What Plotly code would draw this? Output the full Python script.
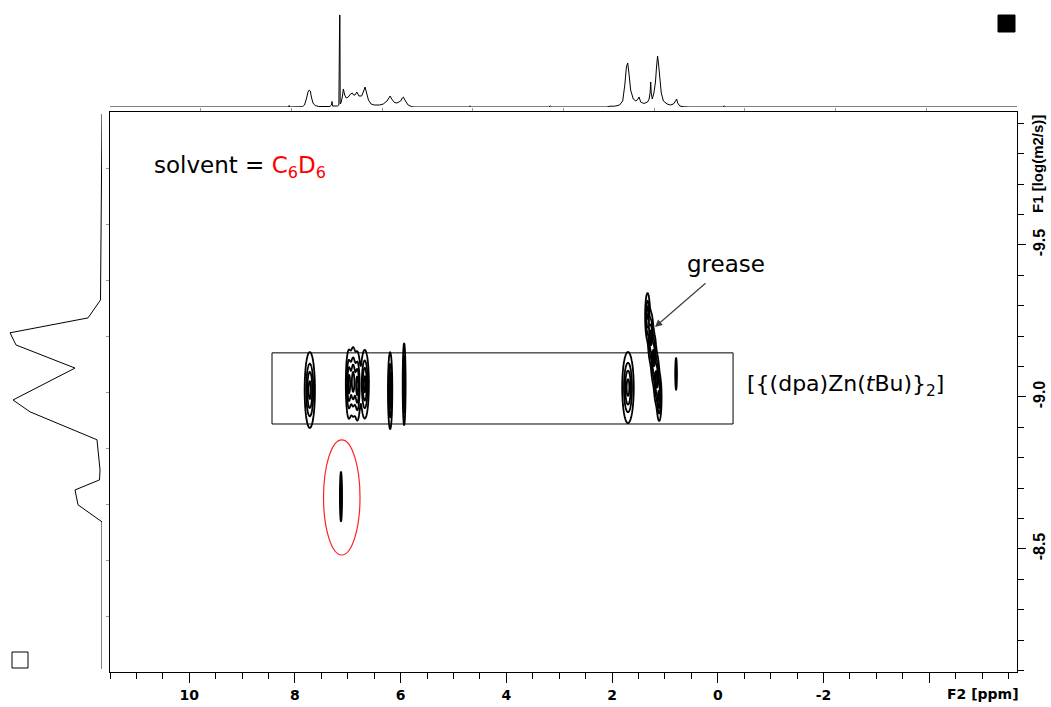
import numpy as np
import plotly.graph_objects as go

W, H = 1051, 707

# ---------------- data ----------------
# 1D 1H projection (top), ppm vs intensity
spec_ppm = [11.5, 8.2, 8.12, 8.11, 8.10, 7.86, 7.82, 7.78, 7.755, 7.73, 7.71, 7.69, 7.66, 7.62, 7.55,
            7.34, 7.31, 7.30, 7.29, 7.20, 7.17, 7.155, 7.15, 7.145, 7.13, 7.105, 7.085, 7.06, 7.03,
            6.99, 6.95, 6.915, 6.89, 6.865, 6.845, 6.83, 6.79, 6.74, 6.70, 6.675, 6.65, 6.61, 6.56,
            6.50, 6.40, 6.33, 6.26, 6.22, 6.20, 6.17, 6.12, 6.07, 6.00, 5.97, 5.95, 5.92, 5.86, 5.80,
            5.75, 4.72, 4.69, 4.66, 3.20, 3.17, 3.14, 2.10, 2.04, 1.95, 1.86, 1.80, 1.76, 1.73, 1.705,
            1.68, 1.65, 1.60, 1.55, 1.51, 1.49, 1.46, 1.40, 1.33, 1.30, 1.28, 1.27, 1.26, 1.24, 1.21,
            1.18, 1.16, 1.14, 1.12, 1.10, 1.07, 1.03, 0.96, 0.90, 0.84, 0.80, 0.78, 0.76, 0.72, 0.65,
            0.55, -0.09, -0.12, -0.15, -5.66]
spec_int = [0, 0, 0, 1.5, 0, 0.3, 2, 9, 15, 17, 16, 10, 4, 1.5, 0.5,
            0.5, 2, 5.5, 1, 1, 2, 92, 92, 3, 4, 10, 18, 12, 9,
            10, 13, 14, 12, 12, 14, 15, 11, 11, 16, 20, 15, 7, 3,
            2, 2, 3, 6, 10, 11, 8, 4.5, 4, 6, 9, 10, 7, 2, 0.5,
            0, 0, 1, 0, 0, 1, 0, 0, 0.8, 0.8, 2, 6, 22, 40, 44,
            33, 17, 8, 6, 8, 10, 5, 3.5, 5, 8, 15, 25, 14, 8, 14,
            25, 40, 51, 42, 28, 14, 6, 3, 2, 3, 6, 8, 4, 1, 0.3,
            0, 0, 1, 0, 0]

# F1 projection (left), log D vs intensity
proj_logd = [-9.931, -9.319, -9.260, -9.211, -9.171, -9.095, -8.990, -8.951, -8.859,
             -8.760, -8.727, -8.694, -8.645, -8.589, -8.105]
proj_int = [0, 1.5, 14, 92, 86, 27, 89, 72, 5, 2, 2.5, 27, 24, 0, 0]

# DOSY cross peaks: chemical shift, log D, widths, relative amplitude
pk_ppm = [7.72, 6.98, 6.90, 6.82, 6.68, 6.20, 5.935, 1.70,
          1.33, 1.27, 1.215, 1.16, 1.11, 0.79, 7.13]
pk_logd = [-9.023, -9.042, -9.050, -9.036, -9.042, -9.021, -9.042, -9.031,
           -9.266, -9.197, -9.128, -9.059, -8.997, -9.076, -8.672]
pk_wppm = [0.05, 0.03, 0.03, 0.03, 0.04, 0.021, 0.014, 0.056,
           0.024, 0.026, 0.026, 0.026, 0.024, 0.010, 0.012]
pk_wlogd = [0.064, 0.058, 0.058, 0.058, 0.058, 0.065, 0.069, 0.060,
            0.04, 0.042, 0.042, 0.042, 0.04, 0.034, 0.049]
pk_amp = [1, 1, 1, 1, 1, 1, 1, 1, 0.9, 1, 1, 1, 0.9, 0.5, 0.6]

x_ticks = [10, 8, 6, 4, 2, 0, -2, -4]
x_ticktext = ["10", "8", "6", "4", "2", "0", "-2", ""]
y_ticks = [-9.5, -9.0, -8.5]
y_ticktext = ["-9.5", "-9.0", "-8.5"]

# ---------------- figure ----------------
gx = np.arange(0.5, 8.0, 0.005)
gy = np.arange(-9.5, -8.4, 0.004)
GX, GY = np.meshgrid(gx, gy)
Z = np.zeros_like(GX)
for p, d, sp, sd, a in zip(pk_ppm, pk_logd, pk_wppm, pk_wlogd, pk_amp):
    Z += a * np.exp(-((GX - p) ** 2 / (2 * sp ** 2) + (GY - d) ** 2 / (2 * sd ** 2)))
Z = np.round(Z, 3)

fig = go.Figure()
fig.add_trace(go.Scatter(x=spec_ppm, y=spec_int, mode="lines", xaxis="x", yaxis="y2",
                         line=dict(color="black", width=1), hoverinfo="skip"))
fig.add_trace(go.Scatter(x=proj_int, y=proj_logd, mode="lines", xaxis="x3", yaxis="y",
                         line=dict(color="black", width=1), hoverinfo="skip"))
fig.add_trace(go.Contour(x=gx, y=gy, z=Z, xaxis="x", yaxis="y", showscale=False,
                         contours=dict(coloring="lines", start=0.15, end=0.9, size=0.25),
                         colorscale=[[0, "black"], [1, "black"]], line=dict(width=1.8),
                         hoverinfo="skip"))
fig.add_trace(go.Scatter(x=[None], y=[None], xaxis="x4", yaxis="y4", showlegend=False))

def px_x(v):
    return v / W

def px_y(v):
    return 1 - v / H

xtickfont = dict(family="DejaVu Sans", size=14, color="black", weight="bold")
ytickfont = dict(family="Liberation Sans", size=16, color="black", weight="bold")

fig.update_layout(
    width=W, height=H, margin=dict(l=0, r=0, t=0, b=0),
    paper_bgcolor="white", plot_bgcolor="white", showlegend=False,
    xaxis=dict(domain=[px_x(110), px_x(1017)], range=[11.5, -5.66], anchor="y",
               showline=True, linecolor="black", linewidth=1, mirror=True,
               ticks="outside", tickmode="array", tickvals=x_ticks, ticktext=x_ticktext,
               ticklen=10, tickcolor="black", tickwidth=1, tickfont=xtickfont,
               minor=dict(dtick=0.5, tick0=0, ticks="outside", ticklen=6, tickcolor="black"),
               showgrid=False, zeroline=False),
    yaxis=dict(domain=[px_y(672), px_y(112)], range=[-8.095, -9.9375], anchor="x", side="right",
               showline=True, linecolor="black", linewidth=1, mirror=True,
               ticks="outside", tickmode="array", tickvals=y_ticks, ticktext=y_ticktext,
               ticklen=8, tickcolor="black", tickwidth=1, tickfont=ytickfont, tickangle=-90,
               minor=dict(dtick=0.1, tick0=-10, ticks="outside", ticklen=6, tickcolor="black"),
               showgrid=False, zeroline=False),
    yaxis2=dict(domain=[px_y(107), px_y(7)], range=[0, 100], anchor="x", visible=False),
    xaxis3=dict(domain=[0, px_x(102)], range=[102, 0], anchor="y", visible=False),
    xaxis4=dict(overlaying="x", side="top", anchor="y", range=[0, 10], tickmode="array",
                tickvals=[1, 2, 3, 4, 5, 6, 7, 8, 9], ticks="outside", ticklen=3,
                tickcolor="#999999", showticklabels=False, showline=False, showgrid=False,
                zeroline=False),
    yaxis4=dict(overlaying="y", side="left", anchor="x", range=[0, 10], tickmode="array",
                tickvals=[1, 2, 3, 4, 5, 6, 7, 8, 9], ticks="outside", ticklen=3,
                tickcolor="#999999", showticklabels=False, showline=False, showgrid=False,
                zeroline=False),
)

# box around the compound signals and ellipse around the solvent signal
fig.add_shape(type="rect", xref="x", yref="y", x0=8.435, x1=-0.288, y0=-9.145, y1=-8.911,
              line=dict(color="black", width=1))
fig.add_shape(type="circle", xref="x", yref="y", x0=7.46, x1=6.77, y0=-8.859, y1=-8.480,
              line=dict(color="#ff2020", width=1.2))
# small squares
fig.add_shape(type="rect", xref="paper", yref="paper", x0=px_x(998), x1=px_x(1015),
              y0=px_y(32), y1=px_y(15), fillcolor="black", line=dict(color="black", width=1))
fig.add_shape(type="rect", xref="paper", yref="paper", x0=px_x(12), x1=px_x(28),
              y0=px_y(668), y1=px_y(652), line=dict(color="black", width=1))

afont = dict(family="DejaVu Sans", size=23, color="black")
fig.add_annotation(xref="paper", yref="paper", x=px_x(152), y=px_y(167), xanchor="left",
                   yanchor="middle", showarrow=False, font=afont,
                   text="solvent = <span style='color:#ff0000'>C<sub>6</sub>D<sub>6</sub></span>")
fig.add_annotation(xref="paper", yref="paper", x=px_x(685), y=px_y(264), xanchor="left",
                   yanchor="middle", showarrow=False, font=afont, text="grease")
fig.add_annotation(xref="paper", yref="paper", x=px_x(745), y=px_y(385), xanchor="left",
                   yanchor="middle", showarrow=False, font=dict(family="DejaVu Sans", size=22, color="black"),
                   text="[{(dpa)Zn(<i>t</i>Bu)}<sub>2</sub>]")
fig.add_annotation(xref="paper", yref="paper", x=px_x(655), y=px_y(327), text="",
                   showarrow=True, ax=52, ay=-45, arrowhead=2, arrowsize=1.2,
                   arrowwidth=1.2, arrowcolor="#404040")
fig.add_annotation(xref="paper", yref="paper", x=px_x(983), y=px_y(694), xanchor="center",
                   yanchor="middle", showarrow=False, font=xtickfont, text="F2 [ppm]")
fig.add_annotation(xref="paper", yref="paper", x=px_x(1038), y=px_y(113), xanchor="center",
                   yanchor="top", showarrow=False,
                   font=dict(family="Liberation Sans", size=15, color="black", weight="bold"),
                   textangle=-90, text="F1 [log(m2/s)]")

fig.write_html("out.html")
